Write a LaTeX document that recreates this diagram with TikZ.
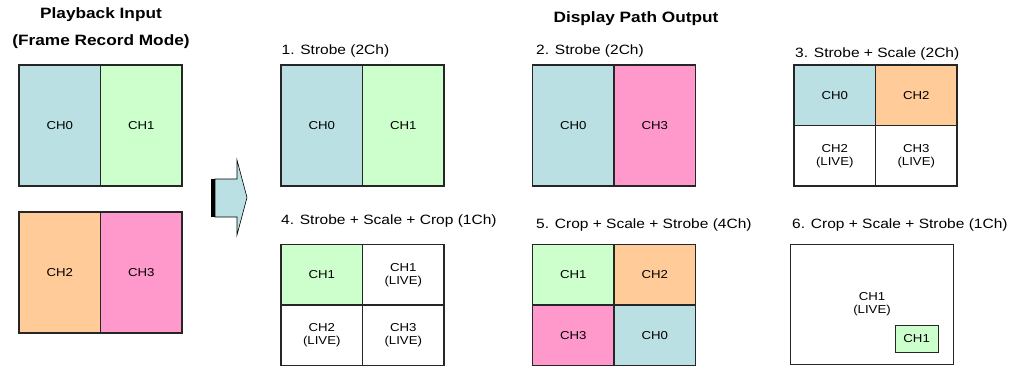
\documentclass[tikz,border=0pt]{standalone}
\usepackage{fontspec}
\setmainfont[FakeStretch=1.15]{Liberation Sans}
\usetikzlibrary{positioning}

\definecolor{chzero}{RGB}{187,224,227}
\definecolor{chone}{RGB}{204,255,204}
\definecolor{chtwo}{RGB}{255,204,153}
\definecolor{chthree}{RGB}{255,153,204}

\newcommand\chfont{\fontsize{11.5}{13}\selectfont}
\newcommand\ttlfont{\fontsize{13.5}{16}\selectfont}
\newcommand\headfont{\fontsize{15}{18}\selectfont\bfseries}

\begin{document}
\begin{tikzpicture}[x=1pt, y=-1pt,
    cell/.style={draw=black!85, line width=1.4pt, minimum width=81.5pt, minimum height=121pt, inner sep=0pt, outer sep=0pt, align=center, font=\chfont},
    qcell/.style={cell, minimum height=60.5pt},
    ttl/.style={anchor=west, inner sep=0pt, font=\ttlfont},
    head/.style={inner sep=0pt, font=\headfont}
  ]
    \useasboundingbox (0,0) rectangle (1013,367);

    % input side
    \node[head] (hin) at (101,15) {Playback Input};
    \node[head] (hmode) at (101,42) {(Frame Record Mode)};
    \node[cell, fill=chzero, anchor=north west] (in0) at (19,65) {CH0};
    \node[cell, fill=chone, right=0pt of in0] (in1) {CH1};
    \node[cell, fill=chtwo, anchor=north west] (in2) at (19,212) {CH2};
    \node[cell, fill=chthree, right=0pt of in2] (in3) {CH3};

    % block arrow
    \fill (211,179) rectangle (215,217);
    \draw[fill=chzero, line width=0.6pt] (215,179) -- (237,179) -- (237,160) -- (247,197.5)
      -- (237,235) -- (237,217) -- (215,217) -- cycle;

    % output side
    \node[head] (hout) at (636,19) {Display Path Output};

    \node[ttl] (t1) at (281.5,51) {1. Strobe (2Ch)};
    \node[cell, fill=chzero, anchor=north west] (p1a) at (281,65) {CH0};
    \node[cell, fill=chone, right=0pt of p1a] (p1b) {CH1};

    \node[ttl] (t2) at (536,51) {2. Strobe (2Ch)};
    \node[cell, fill=chzero, anchor=north west] (p2a) at (532.5,65) {CH0};
    \node[cell, fill=chthree, right=0pt of p2a] (p2b) {CH3};

    \node[ttl] (t3) at (795,54) {3. Strobe + Scale (2Ch)};
    \node[qcell, fill=chzero, anchor=north west] (p3a) at (794,65) {CH0};
    \node[qcell, fill=chtwo, right=0pt of p3a] (p3b) {CH2};
    \node[qcell, below=0pt of p3a] (p3c) {CH2\\(LIVE)};
    \node[qcell, right=0pt of p3c] (p3d) {CH3\\(LIVE)};

    \node[ttl] (t4) at (281,221) {4. Strobe + Scale + Crop (1Ch)};
    \node[qcell, fill=chone, anchor=north west] (p4a) at (281,244.5) {CH1};
    \node[qcell, right=0pt of p4a] (p4b) {CH1\\(LIVE)};
    \node[qcell, below=0pt of p4a] (p4c) {CH2\\(LIVE)};
    \node[qcell, right=0pt of p4c] (p4d) {CH3\\(LIVE)};

    \node[ttl] (t5) at (536,225) {5. Crop + Scale + Strobe (4Ch)};
    \node[qcell, fill=chone, anchor=north west] (p5a) at (532.5,244.5) {CH1};
    \node[qcell, fill=chtwo, right=0pt of p5a] (p5b) {CH2};
    \node[qcell, fill=chthree, below=0pt of p5a] (p5c) {CH3};
    \node[qcell, fill=chzero, right=0pt of p5c] (p5d) {CH0};

    \node[ttl] (t6) at (792,225) {6. Crop + Scale + Strobe (1Ch)};
    \node[cell, minimum width=163pt, minimum height=120pt, anchor=north west] (p6) at (790.5,244.5) {CH1\\(LIVE)};
    \node[cell, fill=chone, line width=1pt, minimum width=42.7pt, minimum height=26.7pt, above left=12.5pt and 15.5pt of p6.south east] (p6s) {CH1};
  \end{tikzpicture}
\end{document}
